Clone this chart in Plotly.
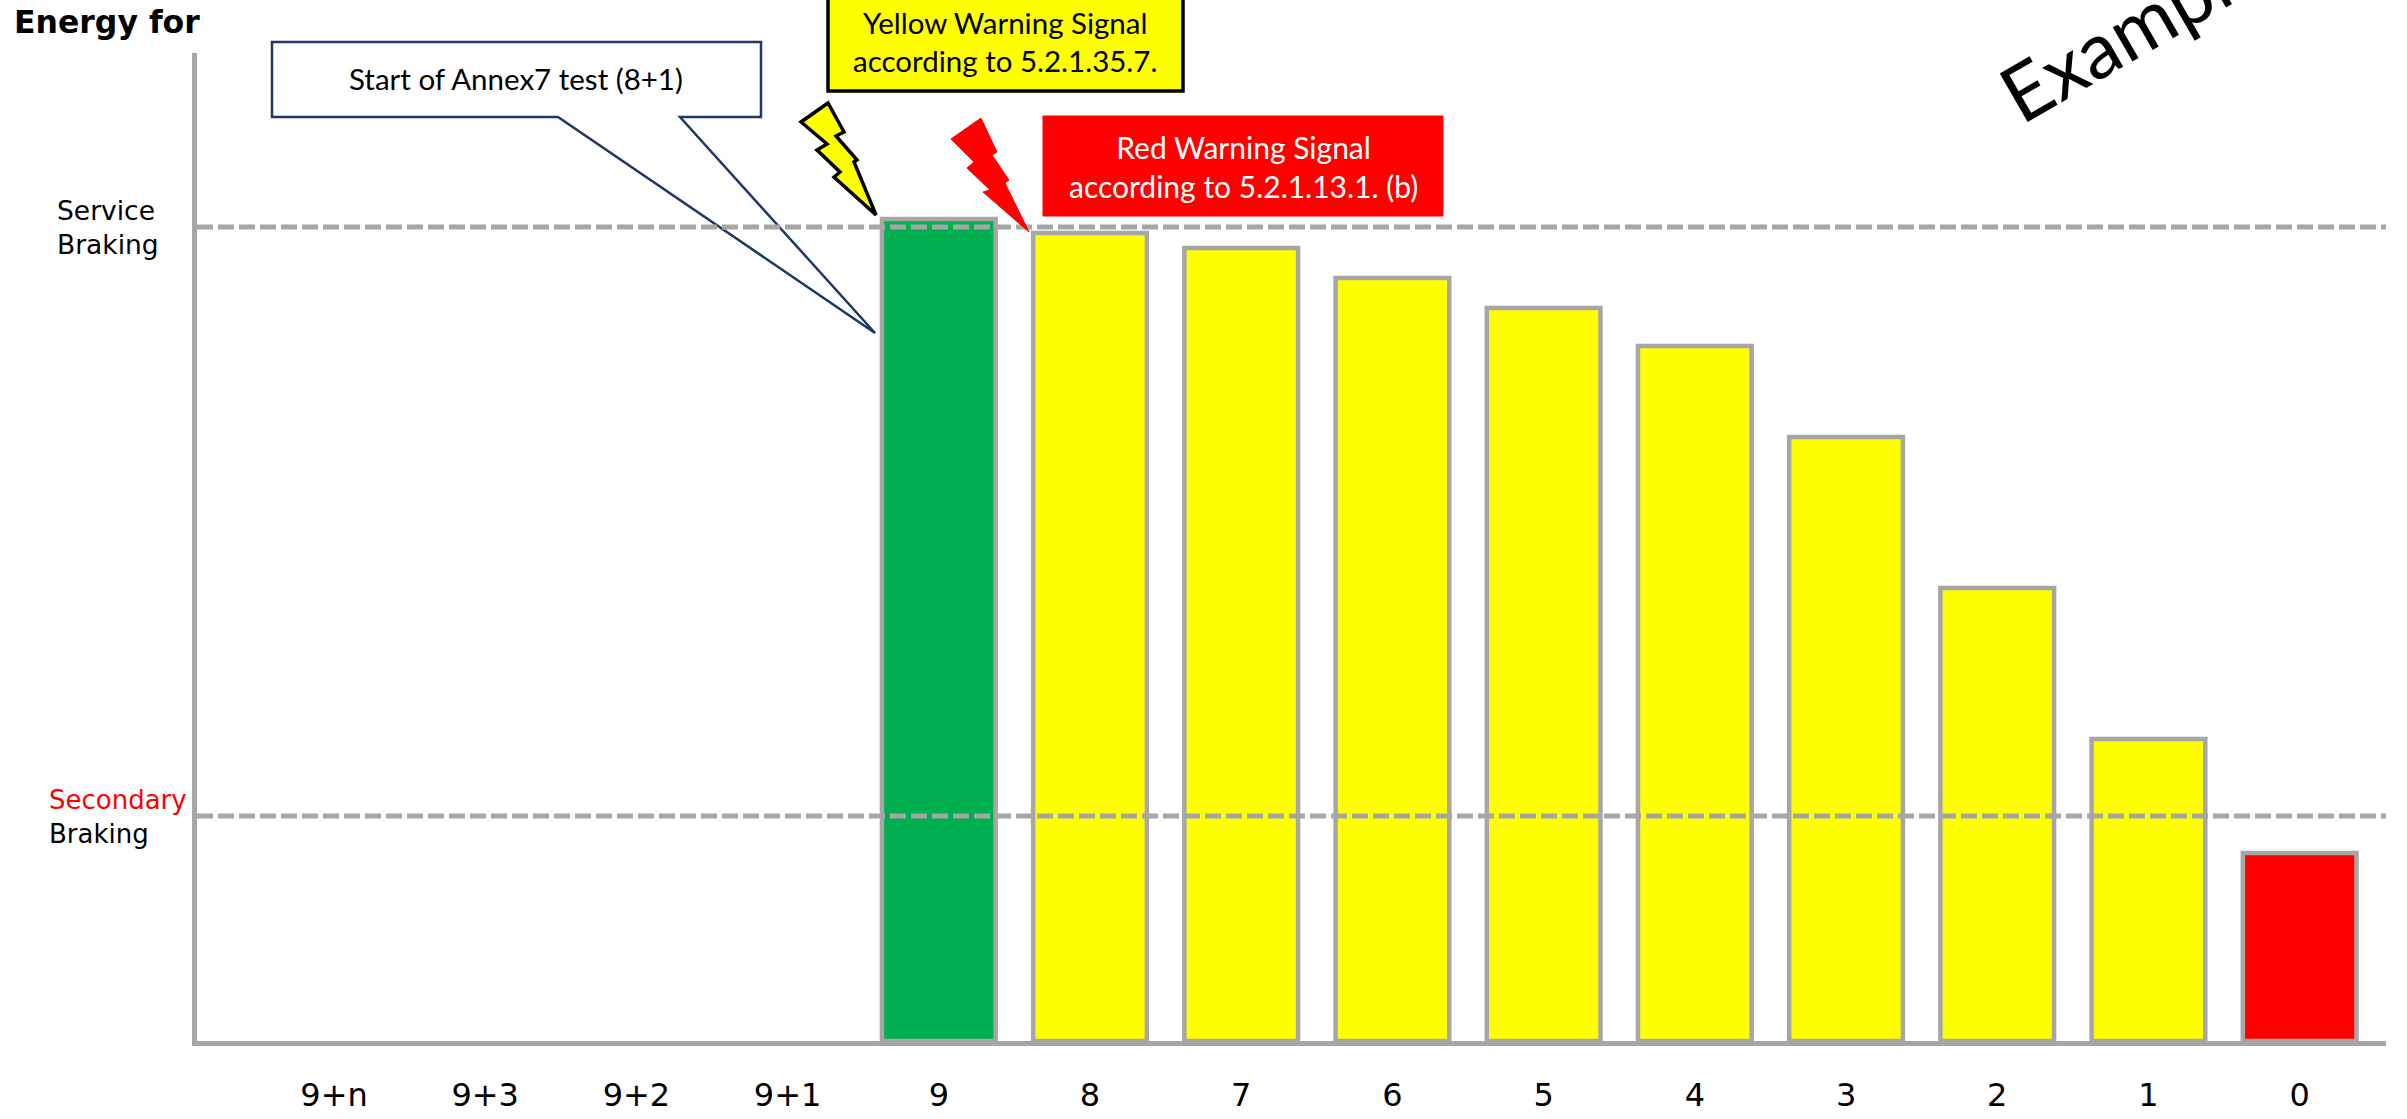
import plotly.graph_objects as go

# Brake-energy levels per brake application, highest application count on the left
applications = ["9+n", "9+3", "9+2", "9+1", "9", "8", "7", "6", "5", "4", "3", "2", "1", "0"]
energy = [None, None, None, None, 822, 808, 793, 763, 733, 695, 604, 453, 302, 188]
bar_colors = ["#00B050"] * 5 + ["#FFFF00"] * 8 + ["#FF0000"]
service_level = 814
secondary_level = 225

GREY = "#A6A6A6"
NAVY = "#1F3864"
WIDTH, HEIGHT = 2407, 1119
LEFT, RIGHT, TOP, BOTTOM = 197, 21, 53, 78
PLOT_W = WIDTH - LEFT - RIGHT
PLOT_H = HEIGHT - TOP - BOTTOM
TEXT_FONT = "Lato"
AXIS_FONT = "DejaVu Sans"


def px(x, y):
    # Page pixels to paper coordinates, for the hand-placed callouts
    return (x - LEFT) / PLOT_W, (HEIGHT - BOTTOM - y) / PLOT_H


def polygon(points, fill, stroke, width):
    path = []
    for i, (x, y) in enumerate(points):
        u, v = px(x, y)
        path.append(f"{'M' if i == 0 else 'L'}{u:.5f},{v:.5f}")
    return dict(type="path", xref="paper", yref="paper", path=" ".join(path) + " Z",
                fillcolor=fill, line=dict(color=stroke, width=width), layer="above")


def label(x, y, text, size, color="black", font=TEXT_FONT, xanchor="center", align="center", angle=0):
    u, v = px(x, y)
    return dict(xref="paper", yref="paper", x=u, y=v, text=text, showarrow=False,
                xanchor=xanchor, yanchor="middle", align=align, textangle=angle,
                font=dict(family=font, size=size, color=color))


def threshold(level):
    return dict(type="line", xref="paper", yref="y", x0=0, x1=1, y0=level, y1=level,
                line=dict(color=GREY, width=5, dash="16px,5px"), layer="above")


fig = go.Figure(go.Bar(
    x=applications, y=energy, width=0.752,
    marker=dict(color=bar_colors, line=dict(color=GREY, width=4.5)),
    hoverinfo="x+y",
))

callout = [(272, 42), (761, 42), (761, 117), (680, 117), (875, 333), (558, 117), (272, 117)]
yellow_bolt = [(828, 103), (801, 122), (827, 144), (817, 150), (840, 172), (834, 177), (876, 215),
               (854, 162), (857, 160), (836, 136), (844, 132)]
red_bolt = [(981, 118), (951, 139), (974, 162), (967, 168), (990, 190), (983, 192), (1029, 232),
            (1005, 183), (1009, 180), (992, 155), (997, 152)]

fig.update_layout(
    width=WIDTH, height=HEIGHT, autosize=False,
    margin=dict(l=LEFT, r=RIGHT, t=TOP, b=BOTTOM, pad=0),
    plot_bgcolor="white", paper_bgcolor="white", showlegend=False,
    xaxis=dict(type="category", range=[-0.906, 13.571], showline=True, linewidth=5, linecolor=GREY,
               showgrid=False, zeroline=False, ticks="", ticklabelstandoff=22, automargin=False,
               tickfont=dict(family=AXIS_FONT, size=32, color="black")),
    yaxis=dict(range=[0, PLOT_H], showline=True, linewidth=5, linecolor=GREY, showgrid=False,
               zeroline=False, ticks="", showticklabels=False, automargin=False),
    shapes=[
        polygon(callout, "white", NAVY, 2.5),
        threshold(service_level),
        threshold(secondary_level),
        polygon([(828, -6), (1183, -6), (1183, 91), (828, 91)], "#FFFF00", "black", 3.5),
        polygon([(1043, 116), (1443, 116), (1443, 216), (1043, 216)], "#FF0000", "#FF0000", 1),
        polygon(yellow_bolt, "#FFFF00", "black", 3.5),
        polygon(red_bolt, "#FF0000", "#FF0000", 1),
    ],
    annotations=[
        label(12, 22, "<b>Energy for</b>", 31.5, font=AXIS_FONT, xanchor="left"),
        label(55, 228, "Service<br>Braking", 26.5, font=AXIS_FONT, xanchor="left", align="left"),
        label(47, 817, "<span style='color:#FF0000'>Secondary</span><br>Braking", 26,
              font=AXIS_FONT, xanchor="left", align="left"),
        label(516, 79, "Start of Annex7 test (8+1)", 29.5),
        label(1005, 41, "Yellow Warning Signal<br>according to 5.2.1.35.7.", 29.5),
        label(1243, 166, "Red Warning Signal<br>according to 5.2.1.13.1. (b)", 30, color="white"),
        label(2132, 27, "Example", 78, angle=-30),
    ],
)

fig.write_html("out.html", config=dict(displayModeBar=False))
